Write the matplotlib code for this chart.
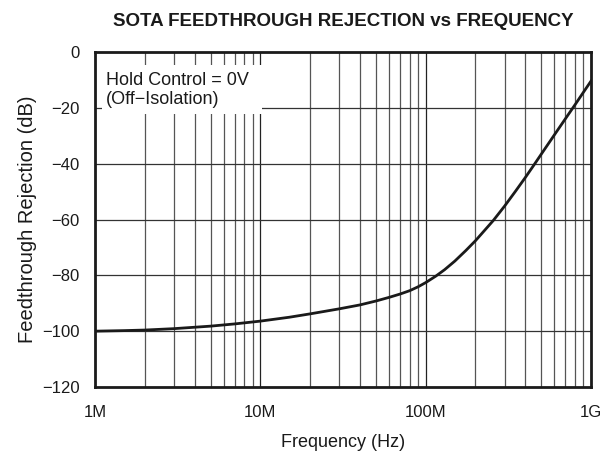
import numpy as np
import matplotlib.pyplot as plt
from matplotlib.patches import Rectangle
from matplotlib.ticker import FixedLocator, NullLocator

plt.rcParams['font.family'] = ['Liberation Sans', 'DejaVu Sans']

# feedthrough rejection curve, frequency in MHz
freq_mhz = [1, 1.5, 2, 3, 5, 7, 10, 15, 20, 30, 40, 50, 60, 70, 80, 90,
            100, 115, 130, 150, 175, 200, 256, 300, 350, 400, 450, 500,
            600, 700, 800, 900, 1000]
rejection_db = [-100.0, -99.8, -99.6, -99.1, -98.2, -97.4, -96.4, -95.0, -93.8,
                -92.0, -90.6, -89.2, -87.9, -86.7, -85.5, -84.1, -82.6, -80.3,
                -78.0, -74.9, -71.1, -67.6, -60.4, -55.2, -49.8, -45.0, -40.6,
                -36.6, -29.7, -23.9, -18.9, -14.4, -10.4]

x_ticks = [1e6, 1e7, 1e8, 1e9]
x_labels = ['1M', '10M', '100M', '1G']
y_ticks = [0, -20, -40, -60, -80, -100, -120]

fig = plt.figure(figsize=(6.06, 4.51), dpi=100)
ax = fig.add_axes([0.1568, 0.1419, 0.8185, 0.7428])

freq = np.array(freq_mhz) * 1e6
ax.plot(freq, rejection_db, color='#1a1a1a', lw=2.0, zorder=3,
        solid_joinstyle='round')

ax.set_xscale('log')
ax.set_xlim(1e6, 1e9)
ax.set_ylim(-120, 0)

# grid: decades in black, minor lines in dark gray
for dec in [1e6, 1e7, 1e8]:
    for m in range(2, 10):
        ax.axvline(dec * m, color='#555555', lw=0.9, zorder=1)
for d in x_ticks[1:-1]:
    ax.axvline(d, color='#222222', lw=0.9, zorder=1)
for y in y_ticks[1:-1]:
    ax.axhline(y, color='#333333', lw=0.9, zorder=1)

ax.xaxis.set_major_locator(FixedLocator(x_ticks))
ax.xaxis.set_minor_locator(NullLocator())
ax.set_xticklabels(x_labels)
ax.set_yticks(y_ticks)
ax.set_yticklabels([str(v).replace('-', '\u2212') for v in y_ticks])
ax.tick_params(length=0, labelsize=12, colors='#1a1a1a')
ax.tick_params(axis='x', pad=13)
ax.tick_params(axis='y', pad=11)

for s in ax.spines.values():
    s.set_linewidth(2)
    s.set_color('#1a1a1a')

ax.set_xlabel('Frequency (Hz)', fontsize=13, labelpad=10, color='#1a1a1a')
ax.set_ylabel('Feedthrough Rejection (dB)', fontsize=14.5, labelpad=4,
              color='#1a1a1a')
ax.set_title('SOTA FEEDTHROUGH REJECTION vs FREQUENCY', fontsize=13.5,
             fontweight='bold', pad=19, color='#1a1a1a')

# white label box over the grid
ax.add_patch(Rectangle((0.014, 0.815), 0.323, 0.146, transform=ax.transAxes,
                       facecolor='white', edgecolor='none', zorder=2))
ax.text(0.022, 0.94, 'Hold Control = 0V\n(Off\u2212Isolation)', transform=ax.transAxes,
        fontsize=13, va='top', ha='left', color='#1a1a1a', linespacing=1.15,
        zorder=4)

fig.savefig('out.png', dpi=100)
